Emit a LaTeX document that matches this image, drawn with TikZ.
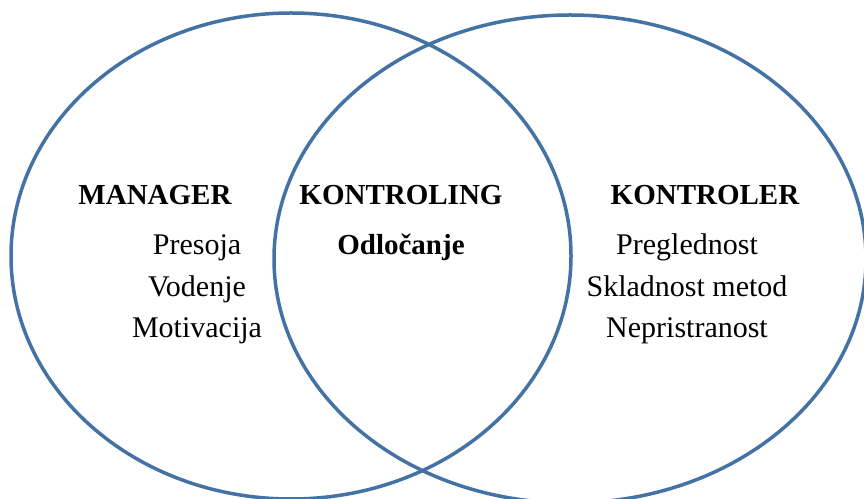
\documentclass[tikz,border=0pt]{standalone}
\usepackage{fontspec}
\setmainfont{Liberation Serif}
\usetikzlibrary{shapes.geometric}
\definecolor{ringblue}{RGB}{68,114,164}
\begin{document}
\begin{tikzpicture}[x=1pt, y=1pt]
    \tikzstyle{ring} = [ellipse, draw = ringblue, line width = 3.5pt, inner sep = 0pt]
    \tikzstyle{word} = [inner sep = 0pt, text height = 20pt, text depth = 6pt, font = \fontsize{30}{34}\selectfont]
    \tikzstyle{head} = [word, font = \fontsize{29}{34}\selectfont\bfseries]
    \useasboundingbox (0,0) rectangle (864,498);

    \node[ring, minimum width = 560pt, minimum height = 486pt](L) at (291,242){};
    \node[ring, minimum width = 592pt, minimum height = 488pt](R) at (570,239){};

    \node[head](M) at (155,300){MANAGER};
    \node[word, node distance = 50pt, below of = M, xshift = 42pt](M1){Presoja};
    \node[word, node distance = 42pt, below of = M1](M2){Vodenje};
    \node[word, node distance = 41pt, below of = M2](M3){Motivacija};

    \node[head](K) at (401,300){KONTROLING};
    \node[head, node distance = 50pt, below of = K](K1){Odločanje};

    \node[head](C) at (705,300){KONTROLER};
    \node[word, node distance = 50pt, below of = C, xshift = -18pt](C1){Preglednost};
    \node[word, node distance = 42pt, below of = C1](C2){Skladnost metod};
    \node[word, node distance = 41pt, below of = C2](C3){Nepristranost};

\end{tikzpicture}
\end{document}
